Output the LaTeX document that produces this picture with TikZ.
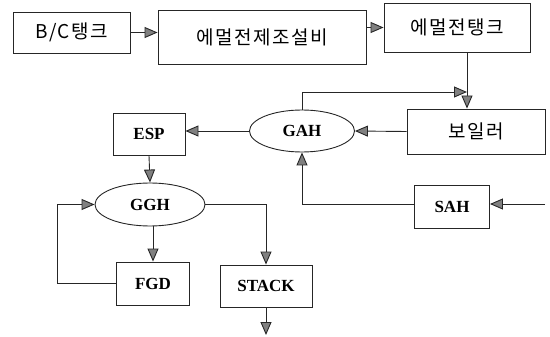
\documentclass[tikz,border=0pt]{standalone}
\usepackage{fontspec}
\setmainfont{Liberation Serif}
\newfontfamily\kr[LetterSpace=8]{Noto Sans CJK KR}
\usetikzlibrary{arrows.meta,shapes.geometric}
\begin{document}
\begin{tikzpicture}[x=1pt,y=-1pt,
  line width=0.9pt, draw=black!85,
  box/.style={draw, rectangle, inner sep=0pt, anchor=center},
  oval/.style={draw, ellipse, inner sep=0pt, anchor=center},
  krtxt/.style={font=\kr\fontsize{19}{19}\selectfont},
  lat/.style={font=\bfseries\fontsize{17}{17}\selectfont},
  arr/.style={-{Triangle[length=13pt,width=11pt,fill=black!50]}}]
\useasboundingbox (0,0) rectangle (550,337);
\node[box, krtxt, minimum width=117pt, minimum height=41pt] (bc) at (71.5,32.5) {B/C탱크};
\node[box, krtxt, minimum width=208pt, minimum height=54pt] (em) at (262,37) {에멀전제조설비};
\node[box, krtxt, minimum width=146pt, minimum height=49pt] (et) at (457,27.5) {에멀전탱크};
\node[box, krtxt, minimum width=138pt, minimum height=45pt] (boil) at (476,131.5) {보일러};
\node[oval, lat, minimum width=105pt, minimum height=42pt] (gah) at (302,131) {GAH};
\node[box, lat, minimum width=72pt, minimum height=42pt] (esp) at (149,134) {ESP};
\node[oval, lat, minimum width=110pt, minimum height=43pt] (ggh) at (150,204.5) {GGH};
\node[box, lat, minimum width=75pt, minimum height=43pt] (sah) at (452,206.5) {SAH};
\node[box, lat, minimum width=73pt, minimum height=43pt] (fgd) at (153,283.5) {FGD};
\node[box, lat, minimum width=92pt, minimum height=42pt] (stack) at (266,286) {STACK};
\coordinate (sahin) at (545,204);
\coordinate (out) at (266,335);
\coordinate (joint) at (467,92);

\draw[arr] (bc.east) -- (em.west |- bc.east);
\draw[arr] (em.east |- et.west) -- (et.west);
\draw[arr] (et.south -| joint) -- (boil.north -| joint);
\draw[arr] (gah.north) |- (joint);
\draw[arr] (boil.west) -- (gah.east);
\draw[arr] (gah.west) -- (esp.east |- gah.west);
\draw[arr] (esp.south) -- (ggh.north);
\draw[arr] (sahin) -- (sah.east |- sahin);
\draw[arr] (sah.west |- sahin) -| (gah.south);
\draw[arr] (ggh.east) -| (stack.north);
\draw[arr] (ggh.south -| fgd.north) -- (fgd.north);
\draw[arr] (fgd.west) -- ++(-59,0) |- (ggh.west);
\draw[arr] (stack.south) -- (out);
\end{tikzpicture}
\end{document}
